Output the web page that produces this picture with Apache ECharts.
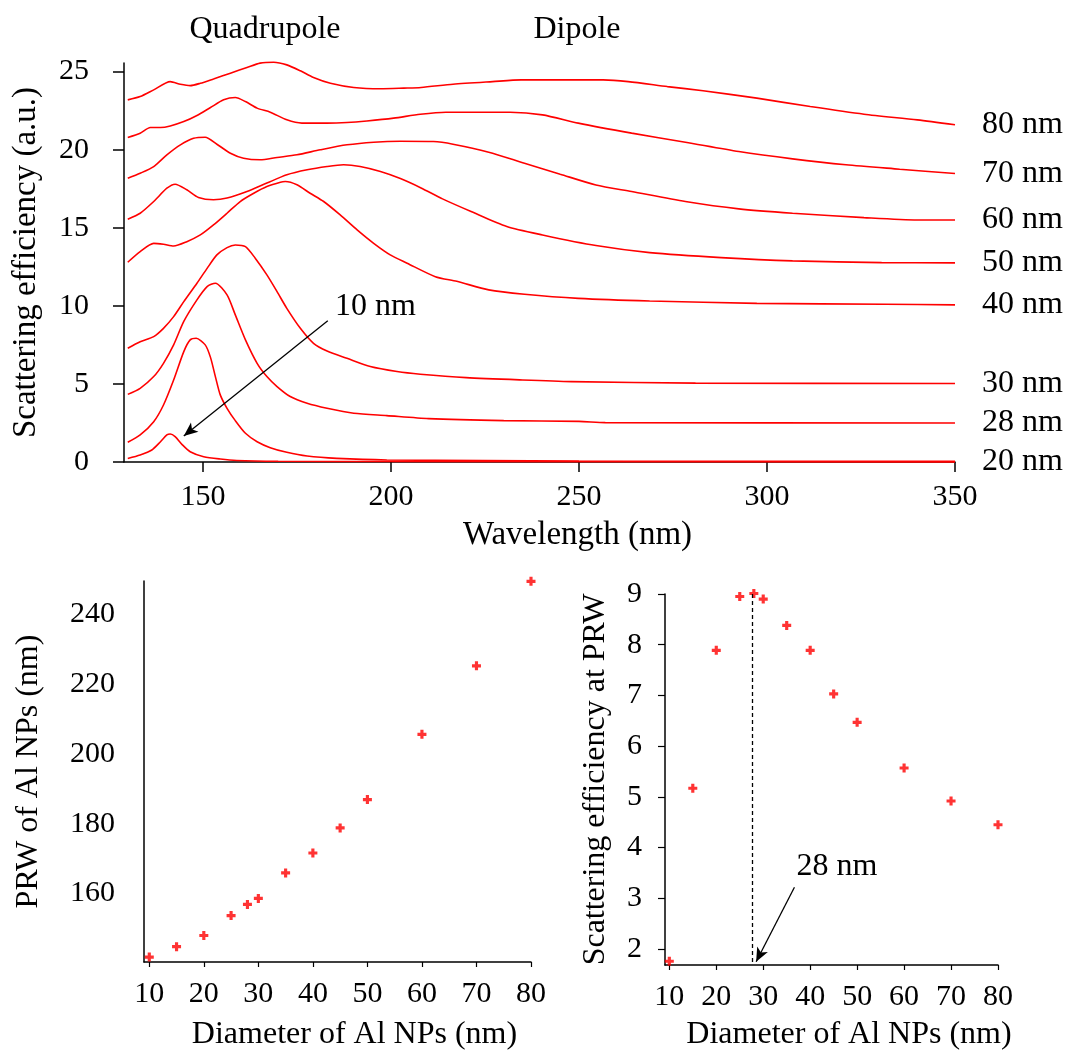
<!DOCTYPE html>
<html>
<head>
<meta charset="utf-8">
<script src="https://cdn.jsdelivr.net/npm/echarts@6/dist/echarts.min.js"></script>
<style>html,body{margin:0;padding:0;background:#fff}#c{width:1067px;height:1052px}</style>
</head>
<body>
<div id="c"></div>
<script>
// ---- Top panel: scattering spectra [wavelength (nm), efficiency (a.u.)] ----
var s10 = [[130,0.23],[133.3,0.45],[136.4,0.77],[138.7,1.3],[140.4,1.73],[141.3,1.79],[142.6,1.62],[144.4,1.13],[146.6,0.66],[150.2,0.34],[154.6,0.19],[159,0.1],[170,0.05],[200,0.03],[350,0.01]];
var s20 = [[130,1.26],[133.3,1.73],[136.9,2.58],[139.5,3.65],[142.2,5.25],[144.9,7.07],[146.6,7.82],[148.2,7.92],[150.6,7.5],[152,6.7],[153.3,5.47],[154.6,4.3],[156.4,3.44],[158.6,2.65],[161.3,1.84],[164.4,1.3],[167.9,0.92],[172.3,0.62],[177.7,0.38],[185.6,0.23],[198.9,0.13],[250,0.06],[350,0.04]];
var s28 = [[130,4.33],[133.3,4.72],[136.9,5.47],[139.5,6.32],[142.2,7.5],[144.9,9.0],[148.4,10.38],[151.1,11.23],[153.3,11.45],[156.4,10.7],[158.6,9.42],[161.3,7.82],[164.4,6.32],[167,5.47],[169.7,4.83],[173.2,4.19],[177.7,3.76],[183,3.44],[190.1,3.12],[198.9,2.97],[210,2.78],[230,2.65],[250,2.6],[257,2.52],[350,2.5]];
var s30 = [[130,7.28],[133.3,7.7],[136.9,8.03],[139.5,8.56],[142.2,9.31],[144.9,10.27],[148.4,11.45],[151.1,12.4],[153.7,13.26],[156.4,13.73],[158.6,13.9],[161.3,13.79],[163.9,13.05],[167,11.98],[169.7,10.91],[172.3,9.84],[175.9,8.56],[179.4,7.6],[183,7.11],[188.3,6.64],[194.5,6.11],[201.6,5.79],[207.8,5.62],[220,5.4],[235,5.25],[248,5.15],[281,5.05],[350,5.03]];
var s40 = [[130,12.79],[133.3,13.47],[136.9,14.0],[139.5,13.94],[142.2,13.83],[145.7,14.11],[149.3,14.54],[152.8,15.18],[156.4,15.93],[159.9,16.68],[163.5,17.21],[167,17.64],[170.6,17.92],[171.9,17.96],[175,17.75],[178.5,17.21],[182.1,16.68],[186.5,15.82],[191,14.86],[195.4,14.0],[199.8,13.26],[204.3,12.73],[211.8,11.87],[217.5,11.57],[226,11.02],[235.5,10.74],[249.8,10.48],[268.8,10.31],[297.3,10.16],[331.5,10.1],[350,10.06]];
var s50 = [[130,15.55],[133.3,15.93],[136.9,16.68],[140.4,17.53],[142.6,17.79],[145.7,17.43],[148.8,16.94],[152.8,16.79],[156.4,16.9],[161.7,17.32],[167,17.86],[172.3,18.39],[177.7,18.71],[183,18.92],[187.4,19.03],[191.8,18.92],[197.2,18.6],[202.5,18.15],[208,17.55],[213.7,16.85],[221.3,16.04],[230.8,15.08],[240.3,14.54],[254.5,13.86],[268.8,13.41],[287.8,13.09],[306.8,12.88],[330.5,12.77],[350,12.75]];
var s60 = [[130,18.17],[133.3,18.49],[136.9,18.92],[140.4,19.67],[144,20.31],[147.5,20.73],[150.6,20.8],[153.7,20.35],[157.3,19.77],[160.8,19.45],[165.2,19.35],[169.7,19.5],[175,19.67],[181.2,19.99],[188.3,20.31],[195.4,20.48],[202.5,20.54],[211.3,20.52],[216.5,20.35],[226,19.84],[235.5,19.13],[245,18.43],[254.5,17.74],[264,17.32],[278.3,16.68],[292.5,16.21],[306.8,15.93],[325.8,15.65],[340,15.5],[350,15.5]];
var s70 = [[130,20.78],[133.3,21.05],[136,21.42],[138.7,21.42],[141.3,21.52],[144.9,21.8],[148.4,22.19],[152,22.7],[155.5,23.19],[158.6,23.34],[161.3,23.08],[164.4,22.66],[167.9,22.4],[172.3,21.91],[176.3,21.7],[183,21.7],[188.3,21.74],[193.6,21.84],[200.7,22.02],[207.8,22.27],[214.6,22.4],[231.7,22.4],[240.3,22.23],[249.8,21.7],[264,21.06],[278.3,20.48],[292.5,19.88],[306.8,19.41],[321,19.03],[335.3,18.75],[350,18.47]];
var s80 = [[130,23.19],[133.3,23.4],[136.9,23.83],[141.3,24.36],[144,24.19],[146.6,24.1],[149.3,24.25],[152.8,24.53],[157.3,24.9],[161.7,25.26],[165.2,25.54],[168.8,25.6],[172.3,25.43],[175.9,25.05],[179.4,24.62],[183.9,24.25],[190.1,23.98],[197.2,23.9],[203.4,23.94],[208,23.98],[216.5,24.19],[227,24.36],[234.6,24.47],[256.4,24.47],[263.1,24.36],[273.5,24.04],[283,23.77],[297.3,23.3],[311.5,22.76],[325.8,22.27],[340,21.91],[350,21.6]];
var spectraNames = ['10 nm','20 nm','28 nm','30 nm','40 nm','50 nm','60 nm','70 nm','80 nm'];
var spectra = [s10, s20, s28, s30, s40, s50, s60, s70, s80];
var wlTicks = [150, 200, 250, 300, 350];
var effTicks = [0, 5, 10, 15, 20, 25];

// ---- Bottom panels ----
var diameters = [10, 15, 20, 25, 28, 30, 35, 40, 45, 50, 60, 70, 80];
var prw = [141.8, 144.8, 148.0, 153.7, 156.9, 158.6, 165.9, 171.6, 178.8, 186.9, 205.6, 225.2, 249.4];
var effAtPrw = [1.76, 5.17, 7.89, 8.95, 9.01, 8.9, 8.38, 7.89, 7.03, 6.47, 5.57, 4.92, 4.45];
var diamTicks = [10, 20, 30, 40, 50, 60, 70, 80];
var prwTicks = [160, 180, 200, 220, 240];
var effPrwTicks = [2, 3, 4, 5, 6, 7, 8, 9];

// annotations
var arrow10 = [[183.2, 9.05], [144.9, 1.67]];
var label10 = [195.9, 9.95];
var dashed28 = [[27.7, 9], [27.7, 1.686]];
var arrow28 = [[36.65, 3.22], [28.49, 1.75]];
var label28 = [45.7, 3.62];

var FONT = 'Liberation Serif';
var RED = '#ff0000';
var tickFS = 30, nameFS = 32;
var axisLine = {show: true, lineStyle: {color: '#000', width: 1.5}};
var plus = 'path://M2.6,0H5.4V2.6H8V5.4H5.4V8H2.6V5.4H0V2.6H2.6Z';

var series = [];
spectra.forEach(function (d, i) {
  series.push({
    type: 'line', name: spectraNames[i], xAxisIndex: 0, yAxisIndex: 0,
    data: d, showSymbol: false, smooth: 0.25, clip: false,
    lineStyle: {color: RED, width: 1.6},
    endLabel: i === 0 ? {show: false} : {show: true, formatter: spectraNames[i], distance: 27,
      color: '#000', fontFamily: FONT, fontSize: nameFS},
    markLine: i === 0 ? {
      silent: true, symbolSize: [9, 14], animation: false,
      lineStyle: {color: '#000', width: 1.3, type: 'solid'}, label: {show: false},
      data: [[{coord: arrow10[0], symbol: 'none'}, {coord: arrow10[1], symbol: 'arrow'}]]
    } : undefined,
    markPoint: i === 0 ? {
      silent: true, symbol: 'circle', symbolSize: 1, itemStyle: {color: 'rgba(0,0,0,0)'},
      data: [{coord: label10, label: {show: true, position: 'inside', formatter: '10 nm',
        color: '#000', fontFamily: FONT, fontSize: nameFS}}]
    } : undefined
  });
});
series.push({
  type: 'scatter', xAxisIndex: 1, yAxisIndex: 1, clip: false,
  data: diameters.map(function (d, i) { return [d, prw[i]]; }),
  symbol: plus, symbolSize: 9, itemStyle: {color: RED}
});
series.push({
  type: 'scatter', xAxisIndex: 2, yAxisIndex: 2, clip: false,
  data: diameters.map(function (d, i) { return [d, effAtPrw[i]]; }),
  symbol: plus, symbolSize: 9, itemStyle: {color: RED},
  markLine: {
    silent: true, symbolSize: [9, 14], animation: false, label: {show: false},
    data: [
      [{coord: dashed28[0], symbol: 'none', lineStyle: {type: [4, 3], color: '#000', width: 1.3}},
       {coord: dashed28[1], symbol: 'none'}],
      [{coord: arrow28[0], symbol: 'none', lineStyle: {type: 'solid', color: '#000', width: 1.3}},
       {coord: arrow28[1], symbol: 'arrow'}]
    ]
  },
  markPoint: {
    silent: true, symbol: 'circle', symbolSize: 1, itemStyle: {color: 'rgba(0,0,0,0)'},
    data: [{coord: label28, label: {show: true, position: 'inside', formatter: '28 nm',
      color: '#000', fontFamily: FONT, fontSize: nameFS}}]
  }
});

function txt(extra) {
  return Object.assign({color: '#000', fontFamily: FONT, fontSize: tickFS}, extra || {});
}

var option = {
  animation: false,
  backgroundColor: '#fff',
  textStyle: {fontFamily: FONT},
  graphic: [
    {type: 'text', x: 265, y: 30, style: {text: 'Quadrupole', fill: '#000', font: nameFS + 'px "' + FONT + '"', align: 'center', verticalAlign: 'middle'}},
    {type: 'text', x: 577, y: 30, style: {text: 'Dipole', fill: '#000', font: nameFS + 'px "' + FONT + '"', align: 'center', verticalAlign: 'middle'}}
  ],
  grid: [
    {left: 124, top: 63, width: 831, height: 399, containLabel: false},
    {left: 144, top: 581, width: 387, height: 384, containLabel: false},
    {left: 665, top: 594, width: 333, height: 373, containLabel: false}
  ],
  xAxis: [
    {gridIndex: 0, type: 'value', min: 129, max: 350,
      axisLine: axisLine, splitLine: {show: false},
      axisTick: {show: true, length: 10, lineStyle: {color: '#000', width: 1.5}, customValues: wlTicks},
      axisLabel: txt({margin: 20, customValues: wlTicks}),
      name: 'Wavelength (nm)', nameLocation: 'middle', nameGap: 57,
      nameTextStyle: txt({fontSize: 33, padding: [0, 0, 0, 76]})},
    {gridIndex: 1, type: 'value', min: 9.03, max: 80,
      axisLine: axisLine, splitLine: {show: false},
      axisTick: {show: true, length: 5, lineStyle: {color: '#000', width: 1.2}, customValues: diamTicks},
      axisLabel: txt({margin: 17, customValues: diamTicks}),
      name: 'Diameter of Al NPs (nm)', nameLocation: 'middle', nameGap: 57,
      nameTextStyle: txt({fontSize: nameFS, padding: [0, 0, 0, 34]})},
    {gridIndex: 2, type: 'value', min: 9.08, max: 80,
      axisLine: axisLine, splitLine: {show: false},
      axisTick: {show: true, length: 5, lineStyle: {color: '#000', width: 1.2}, customValues: diamTicks},
      axisLabel: txt({margin: 17, customValues: diamTicks}),
      name: 'Diameter of Al NPs (nm)', nameLocation: 'middle', nameGap: 54,
      nameTextStyle: txt({fontSize: nameFS, padding: [0, 0, 0, 35]})}
  ],
  yAxis: [
    {gridIndex: 0, type: 'value', min: 0, max: 25.55,
      axisLine: axisLine, splitLine: {show: false},
      axisTick: {show: true, length: 11, lineStyle: {color: '#000', width: 1.5}, customValues: effTicks},
      axisLabel: txt({margin: 35, customValues: effTicks}),
      name: 'Scattering efficiency (a.u.)', nameLocation: 'middle', nameGap: 81,
      nameTextStyle: txt({fontSize: 33})},
    {gridIndex: 1, type: 'value', min: 140.4, max: 249.5,
      axisLine: axisLine, splitLine: {show: false},
      axisTick: {show: false, customValues: prwTicks},
      axisLabel: txt({margin: 29, customValues: prwTicks}),
      name: 'PRW of Al NPs (nm)', nameLocation: 'middle', nameGap: 99, nameTextStyle: txt({fontSize: nameFS})},
    {gridIndex: 2, type: 'value', min: 1.686, max: 9,
      axisLine: axisLine, splitLine: {show: false},
      axisTick: {show: true, length: 7, lineStyle: {color: '#000', width: 1.2}, customValues: effPrwTicks},
      axisLabel: txt({margin: 23, customValues: effPrwTicks}),
      name: 'Scattering efficiency at PRW', nameLocation: 'middle', nameGap: 53, nameTextStyle: txt({fontSize: nameFS})}
  ],
  series: series
};

var chart = echarts.init(document.getElementById('c'), null, {renderer: 'canvas'});
chart.setOption(option);
</script>
</body>
</html>
